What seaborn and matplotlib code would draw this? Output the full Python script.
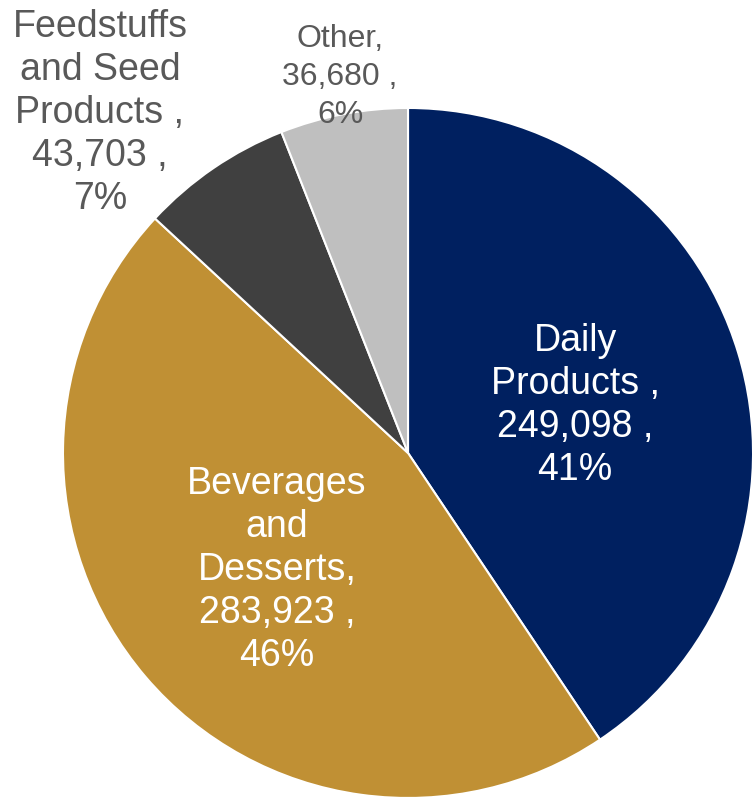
import matplotlib
matplotlib.use("Agg")
import matplotlib.pyplot as plt
import seaborn as sns

sns.set_theme(style="white")
plt.rcParams['font.family'] = ['Liberation Sans', 'DejaVu Sans']

categories = ["Daily\nProducts ,", "Beverages\nand\nDesserts,", "Feedstuffs\nand Seed\nProducts ,", "Other,"]
values = [249098, 283923, 43703, 36680]
percents = ["41%", "46%", "7%", "6%"]
colors = ["#002060", "#C09034", "#404040", "#BFBFBF"]
text_colors = ["white", "white", "#595959", "#595959"]
label_pos = [(0.484, 0.139), (-0.38, -0.339), (-0.893, 0.986), (-0.197, 1.09)]
font_sizes = [27, 27, 27, 23]
line_spacings = [1.25, 1.25, 1.25, 1.33]

fig = plt.figure(figsize=(7.52, 7.99), dpi=100)
ax = fig.add_axes([0, 0, 1, 1])
ax.pie(values, colors=colors, startangle=90, counterclock=False,
       radius=1.0, wedgeprops=dict(edgecolor="white", linewidth=1.5))
for cat, val, pct, tc, pos, fs, ls in zip(categories, values, percents, text_colors,
                                           label_pos, font_sizes, line_spacings):
    ax.text(pos[0], pos[1], f"{cat}\n{val:,} ,\n{pct}", ha="center", va="center",
            color=tc, fontsize=fs, linespacing=ls, multialignment="center")
ax.set_aspect('auto')
ax.set_xlim(-1.1826, 0.997)
ax.set_ylim(-1.003, 1.313)
ax.axis("off")
fig.savefig("out.png", dpi=100)
